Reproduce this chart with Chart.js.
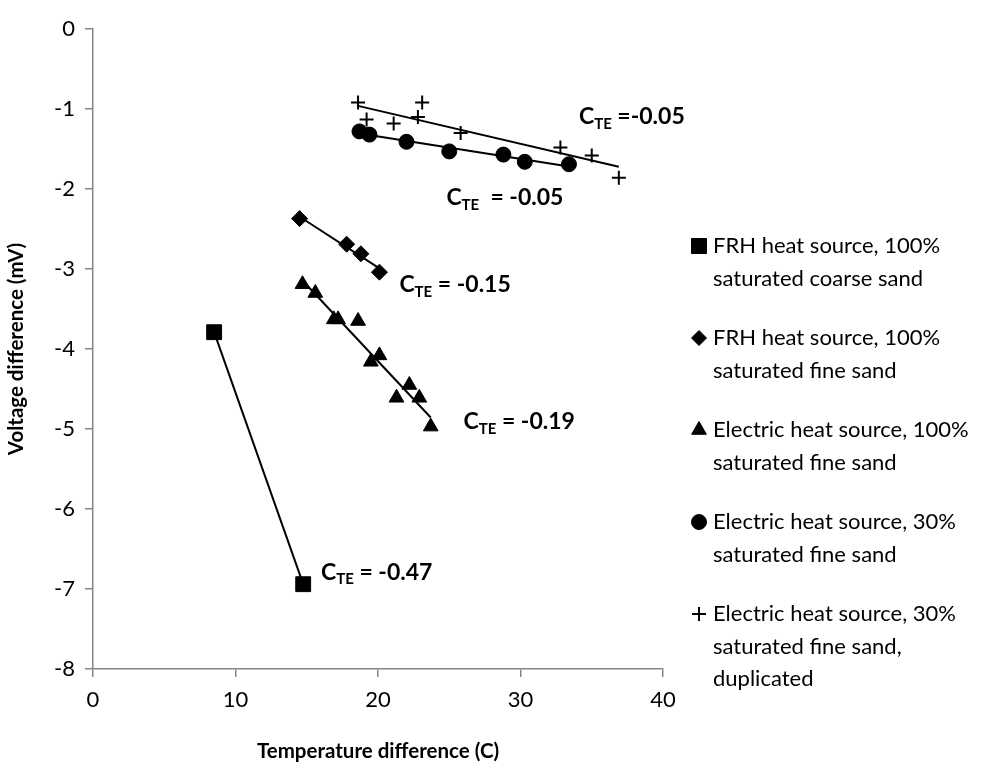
<!DOCTYPE html>
<html>
<head>
<meta charset="utf-8">
<script src="https://cdn.jsdelivr.net/npm/chart.js@4"></script>
<style>
  html, body { margin: 0; padding: 0; background: #fff; }
  #wrap { width: 999px; height: 772px; position: relative; }
</style>
</head>
<body>
<div id="wrap"><canvas id="chart"></canvas></div>
<script>
// FRH heat source, 100% saturated coarse sand
const frhCoarseX = [8.5, 14.75];
const frhCoarseY = [-3.79, -6.94];
// FRH heat source, 100% saturated fine sand
const frhFineX = [14.5, 17.8, 18.8, 20.1];
const frhFineY = [-2.37, -2.69, -2.81, -3.04];
// Electric heat source, 100% saturated fine sand
const elecFineX = [14.7, 15.6, 16.9, 17.2, 18.6, 19.5, 20.1, 21.3, 22.2, 22.9, 23.7];
const elecFineY = [-3.19, -3.30, -3.63, -3.63, -3.65, -4.16, -4.08, -4.61, -4.45, -4.61, -4.97];
// Electric heat source, 30% saturated fine sand
const elec30X = [18.7, 19.4, 22.0, 25.0, 28.8, 30.3, 33.4];
const elec30Y = [-1.28, -1.32, -1.41, -1.53, -1.57, -1.66, -1.69];
// Electric heat source, 30% saturated fine sand, duplicated
const elec30dX = [18.6, 19.2, 21.1, 22.8, 23.1, 25.8, 32.8, 35.0, 36.9];
const elec30dY = [-0.92, -1.13, -1.18, -1.10, -0.92, -1.30, -1.48, -1.58, -1.86];

const xTicks = [0, 10, 20, 30, 40];
const yTicks = [0, -1, -2, -3, -4, -5, -6, -7, -8];

const legendLines = [
  ['FRH heat source, 100%', 'saturated coarse sand'],
  ['FRH heat source, 100%', 'saturated fine sand'],
  ['Electric heat source, 100%', 'saturated fine sand'],
  ['Electric heat source, 30%', 'saturated fine sand'],
  ['Electric heat source, 30%', 'saturated fine sand,', 'duplicated']
];

// slope labels: text after "C_TE", and where they sit (data units, left / middle)
const cteText = [' =-0.05', '  = -0.05', ' = -0.15', ' = -0.19', ' = -0.47'];
const cteAt = [[34.1, -1.10], [24.8, -2.11], [21.5, -3.20], [26.0, -4.91], [16.0, -6.79]];

const FONT = "Lato, 'Open Sans', sans-serif";
const AXIS = '#868686';

function pts(xs, ys) {
  return xs.map((x, i) => ({ x: x, y: ys[i] }));
}

// least squares trendline between min and max x, like Excel's linear trendline
function trend(xs, ys) {
  const n = xs.length;
  const mx = xs.reduce((a, b) => a + b, 0) / n;
  const my = ys.reduce((a, b) => a + b, 0) / n;
  let sxy = 0, sxx = 0;
  xs.forEach((x, i) => { sxy += (x - mx) * (ys[i] - my); sxx += (x - mx) * (x - mx); });
  const b = sxy / sxx;
  const lo = Math.min(...xs), hi = Math.max(...xs);
  return [{ x: lo, y: my + b * (lo - mx) }, { x: hi, y: my + b * (hi - mx) }];
}

const series = [
  { xs: frhCoarseX, ys: frhCoarseY, style: 'rect', r: 10.5, lr: 10.6 },
  { xs: frhFineX, ys: frhFineY, style: 'rectRot', r: 8, lr: 7.5 },
  { xs: elecFineX, ys: elecFineY, style: 'triangle', r: 8.5, lr: 8.5 },
  { xs: elec30X, ys: elec30Y, style: 'circle', r: 7.5, lr: 7.5 },
  { xs: elec30dX, ys: elec30dY, style: 'cross', r: 7, lr: 7 }
];

const datasets = [];
series.forEach((s, i) => {
  datasets.push({
    type: 'line',
    data: trend(s.xs, s.ys),
    borderColor: '#000',
    borderWidth: 2,
    pointRadius: 0,
    fill: false,
    order: 2
  });
  datasets.push({
    type: 'scatter',
    label: legendLines[i].join(' '),
    data: pts(s.xs, s.ys),
    pointStyle: s.style,
    pointRadius: s.r,
    pointHoverRadius: s.r,
    backgroundColor: '#000',
    borderColor: '#000',
    borderWidth: s.style === 'cross' ? 2 : 1,
    order: 1
  });
});

const ctePlugin = {
  id: 'cte',
  afterDatasetsDraw(chart) {
    const ctx = chart.ctx;
    const xs = chart.scales.x, ys = chart.scales.y;
    ctx.save();
    ctx.fillStyle = '#000';
    ctx.textBaseline = 'middle';
    ctx.textAlign = 'left';
    cteAt.forEach((p, i) => {
      let x = xs.getPixelForValue(p[0]);
      const y = ys.getPixelForValue(p[1]);
      ctx.font = 'bold 23px ' + FONT;
      ctx.fillText('C', x, y);
      x += ctx.measureText('C').width;
      ctx.font = 'bold 15px ' + FONT;
      ctx.fillText('TE', x, y + 7);
      x += ctx.measureText('TE').width;
      ctx.font = 'bold 23px ' + FONT;
      ctx.fillText(cteText[i], x, y);
    });
    ctx.restore();
  }
};

const legendPlugin = {
  id: 'sideLegend',
  afterDraw(chart) {
    const ctx = chart.ctx;
    const markX = 699, textX = 713;
    let y = 246;
    ctx.save();
    ctx.font = '22px ' + FONT;
    ctx.textBaseline = 'middle';
    legendLines.forEach((lines, i) => {
      const s = series[i];
      ctx.fillStyle = '#000';
      ctx.strokeStyle = '#000';
      ctx.lineWidth = s.style === 'cross' ? 2 : 1;
      Chart.helpers.drawPoint(ctx, { pointStyle: s.style, radius: s.lr, rotation: 0, borderWidth: ctx.lineWidth }, markX, y);
      lines.forEach((t, j) => {
        ctx.fillText(t, textX, y + j * 32.5);
      });
      y += 92;
    });
    ctx.restore();
  }
};

new Chart(document.getElementById('chart'), {
  type: 'scatter',
  data: { datasets: datasets },
  plugins: [ctePlugin, legendPlugin],
  options: {
    responsive: true,
    maintainAspectRatio: false,
    animation: false,
    events: [],
    layout: { padding: { top: 29, right: 336, left: 0, bottom: 4 } },
    plugins: { legend: { display: false }, tooltip: { enabled: false } },
    scales: {
      x: {
        type: 'linear',
        min: 0,
        max: 40,
        afterBuildTicks(scale) { scale.ticks = xTicks.map(v => ({ value: v })); },
        afterFit(scale) { scale.height = 772 - 669 - 4; },
        ticks: { font: { family: FONT, size: 22 }, color: '#000', padding: 10 },
        grid: { drawOnChartArea: false, color: AXIS, lineWidth: 1.5, tickLength: 8 },
        border: { color: AXIS, width: 1.5 },
        title: { display: true, text: 'Temperature difference (C)', font: { family: FONT, size: 20.5, weight: 'bold' }, color: '#000', padding: { top: 0, bottom: 4 } }
      },
      y: {
        type: 'linear',
        min: -8,
        max: 0,
        afterBuildTicks(scale) { scale.ticks = yTicks.map(v => ({ value: v })); },
        afterFit(scale) { scale.width = 93; },
        ticks: { font: { family: FONT, size: 22 }, color: '#000', padding: 10 },
        grid: { drawOnChartArea: false, color: AXIS, lineWidth: 1.5, tickLength: 8 },
        border: { color: AXIS, width: 1.5 },
        title: { display: true, text: 'Voltage difference (mV)', font: { family: FONT, size: 20.5, weight: 'bold' }, color: '#000', padding: { top: 4, bottom: 0 } }
      }
    }
  }
});
</script>
</body>
</html>
